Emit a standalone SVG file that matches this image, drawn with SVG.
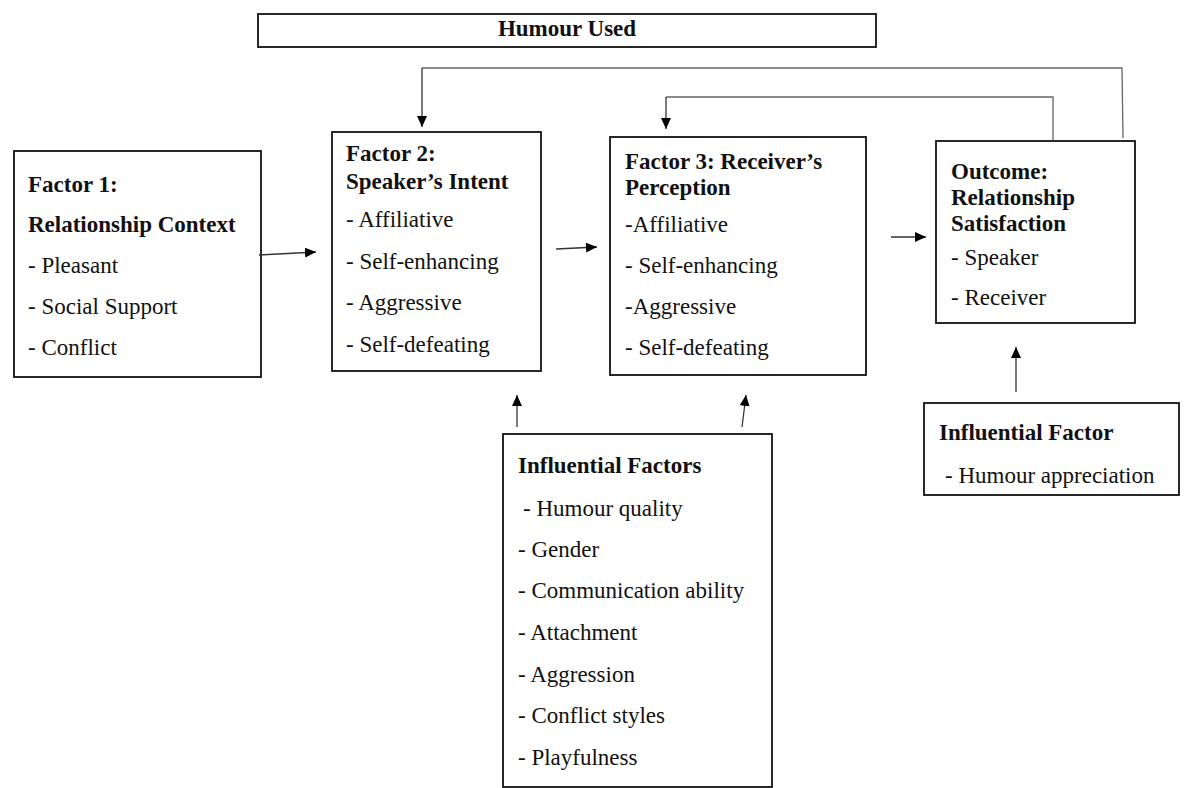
<svg xmlns="http://www.w3.org/2000/svg" width="1189" height="788" viewBox="0 0 1189 788">
<defs>
<style>
.box{fill:#fff;stroke:#111;stroke-width:1.8}
.t{font-family:"Liberation Serif","Times New Roman",serif;font-size:23px;fill:#111}
.b{font-weight:bold}
.c{fill:none;stroke:#333;stroke-width:1.3}
.f{fill:none;stroke:#666;stroke-width:1.3}
</style>
<marker id="ah" markerUnits="userSpaceOnUse" markerWidth="12" markerHeight="11" refX="11" refY="5" orient="auto">
<path d="M0,0 L11,5 L0,10 z" fill="#000"/>
</marker>
</defs>
<rect width="1189" height="788" fill="#fff"/>

<g id="humour-used">
<rect class="box" x="258" y="14" width="618" height="33"/>
<text class="t b" x="567" y="36" text-anchor="middle">Humour Used</text>
</g>

<g id="factor1">
<rect class="box" x="14" y="151" width="247" height="226"/>
<text class="t b" x="28" y="192">Factor 1:</text>
<text class="t b" x="28" y="232">Relationship Context</text>
<text class="t" x="28" y="273">- Pleasant</text>
<text class="t" x="28" y="314">- Social Support</text>
<text class="t" x="28" y="355">- Conflict</text>
</g>

<g id="factor2">
<rect class="box" x="332" y="132" width="209" height="239"/>
<text class="t b" x="346" y="161">Factor 2:</text>
<text class="t b" x="346" y="189">Speaker’s Intent</text>
<text class="t" x="346" y="227">- Affiliative</text>
<text class="t" x="346" y="269">- Self-enhancing</text>
<text class="t" x="346" y="310">- Aggressive</text>
<text class="t" x="346" y="352">- Self-defeating</text>
</g>

<g id="factor3">
<rect class="box" x="610" y="137" width="256" height="238"/>
<text class="t b" x="625" y="169">Factor 3: Receiver’s</text>
<text class="t b" x="625" y="195">Perception</text>
<text class="t" x="625" y="232">-Affiliative</text>
<text class="t" x="625" y="273">- Self-enhancing</text>
<text class="t" x="625" y="314">-Aggressive</text>
<text class="t" x="625" y="355">- Self-defeating</text>
</g>

<g id="outcome">
<rect class="box" x="936" y="141" width="199" height="182"/>
<text class="t b" x="951" y="179">Outcome:</text>
<text class="t b" x="951" y="205">Relationship</text>
<text class="t b" x="951" y="231">Satisfaction</text>
<text class="t" x="951" y="265">- Speaker</text>
<text class="t" x="951" y="305">- Receiver</text>
</g>

<g id="influential-factors">
<rect class="box" x="503" y="434" width="269" height="353"/>
<text class="t b" x="518" y="473">Influential Factors</text>
<text class="t" x="523" y="516">- Humour quality</text>
<text class="t" x="518" y="557">- Gender</text>
<text class="t" x="518" y="598">- Communication ability</text>
<text class="t" x="518" y="640">- Attachment</text>
<text class="t" x="518" y="682">- Aggression</text>
<text class="t" x="518" y="723">- Conflict styles</text>
<text class="t" x="518" y="765">- Playfulness</text>
</g>

<g id="influential-factor">
<rect class="box" x="924" y="403" width="255" height="92"/>
<text class="t b" x="939" y="440">Influential Factor</text>
<text class="t" x="945" y="483">- Humour appreciation</text>
</g>

<g id="connectors">
<polyline class="f" points="1123,138 1122,68 422,68"/>
<line class="c" x1="422" y1="68" x2="422" y2="127" marker-end="url(#ah)"/>
<polyline class="f" points="1053,140 1053,97 666,97"/>
<line class="c" x1="666" y1="97" x2="666" y2="129" marker-end="url(#ah)"/>
<line class="c" x1="259" y1="255" x2="316" y2="252" marker-end="url(#ah)"/>
<line class="c" x1="556" y1="249" x2="597" y2="247" marker-end="url(#ah)"/>
<line class="c" x1="891" y1="237" x2="926" y2="237" marker-end="url(#ah)"/>
<line class="c" x1="1016" y1="392" x2="1016" y2="347" marker-end="url(#ah)"/>
<line class="c" x1="517" y1="427" x2="517" y2="395" marker-end="url(#ah)"/>
<line class="c" x1="742" y1="427" x2="746" y2="395" marker-end="url(#ah)"/>
</g>
</svg>
